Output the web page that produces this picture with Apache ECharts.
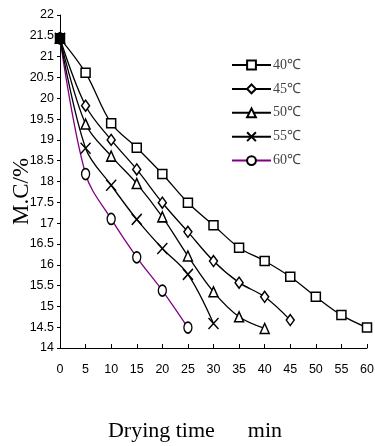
<!DOCTYPE html>
<html><head><meta charset="utf-8">
<script src="https://cdn.jsdelivr.net/npm/echarts@6/dist/echarts.min.js"></script>
<style>html,body{margin:0;padding:0;background:#fff}#c{width:375px;height:446px}</style>
</head><body><div id="c"></div>
<script>
const times = [0,5,10,15,20,25,30,35,40,45,50,55,60];
const seriesNames = ['40℃','45℃','50℃','55℃','60℃'];
const mc40 = [21.44,20.61,19.40,18.81,18.18,17.49,16.95,16.41,16.09,15.71,15.23,14.79,14.49];
const mc45 = [21.44,19.82,19.00,18.29,17.49,16.79,16.09,15.57,15.23,14.67];
const mc50 = [21.44,19.38,18.61,17.95,17.15,16.21,15.35,14.75,14.47];
const mc55 = [21.44,18.80,17.91,17.09,16.39,15.77,14.59];
const mc60 = [21.44,18.18,17.10,16.18,15.38,14.49];
const yTicks = {min:14, max:22, step:0.5};
const xTicks = {min:0, max:60, step:5};

const allValues = [mc40, mc45, mc50, mc55, mc60];
const symbols = [
  {s:'rect', size:[9,9]},
  {s:'diamond', size:[8,11]},
  {s:'triangle', size:[9,10]},
  {s:'path://M0,0L10,10M10,0L0,10', size:[10,11]},
  {s:'path://M0,10A10,10 0 1 1 20,10A10,10 0 1 1 0,10Z', size:[8,11]}
];
const colors = ['#000','#000','#000','#000','#800080'];

const series = allValues.map((vals, k) => ({
  name: seriesNames[k],
  type: 'line',
  smooth: 0.35,
  data: vals.map((v, i) => {
    const pt = [times[i], v];
    if (i === 0 && k === 0) return {value: pt, itemStyle: {color: '#000'}};
    return pt;
  }),
  symbol: symbols[k].s,
  symbolSize: symbols[k].size,
  z: 10 - k,
  lineStyle: {color: colors[k], width: 1.3},
  itemStyle: {color: '#fff', borderColor: '#000', borderWidth: 1.5},
  emphasis: {disabled: true}
}));

const chart = echarts.init(document.getElementById('c'), null, {renderer: 'canvas'});
chart.setOption({
  animation: false,
  backgroundColor: '#fff',
  grid: {left: 60, right: 8, top: 15, bottom: 98, containLabel: false, outerBoundsMode: 'none'},
  legend: {
    orient: 'vertical', left: 226, top: 53,
    itemWidth: 39, itemHeight: 11, itemGap: 9.9,
    textStyle: {fontFamily: 'Liberation Serif, Times New Roman, serif', fontSize: 14, color: '#444', padding: [0,0,0,-3]},
    data: seriesNames
  },
  xAxis: {
    type: 'value', min: xTicks.min, max: xTicks.max, interval: xTicks.step,
    name: 'Drying time      min', nameLocation: 'middle', nameGap: 72, nameMoveOverlap: false,
    nameTextStyle: {fontFamily: 'Liberation Serif, Times New Roman, serif', fontSize: 22, color: '#000', padding: [0, 37, 0, 0]},
    axisLine: {lineStyle: {color: '#000', width: 1}},
    axisTick: {show: true, inside: true, length: 4, lineStyle: {color: '#000'}},
    axisLabel: {fontFamily: 'Liberation Sans, Arial, sans-serif', fontSize: 12.5, color: '#000', margin: 15},
    splitLine: {show: false}
  },
  yAxis: {
    type: 'value', min: yTicks.min, max: yTicks.max, interval: yTicks.step,
    name: 'M.C/%', nameLocation: 'middle', nameGap: 27, nameRotate: 90, nameMoveOverlap: false,
    nameTextStyle: {fontFamily: 'Liberation Serif, Times New Roman, serif', fontSize: 23, color: '#000', padding: [0, 20, 0, 0]},
    axisLine: {show: true, lineStyle: {color: '#000', width: 1}},
    axisTick: {show: true, length: 3, lineStyle: {color: '#000'}},
    axisLabel: {fontFamily: 'Liberation Sans, Arial, sans-serif', fontSize: 12.5, color: '#000', margin: 6,
      formatter: v => String(v)},
    splitLine: {show: false}
  },
  series: series
});
</script>
</body></html>
